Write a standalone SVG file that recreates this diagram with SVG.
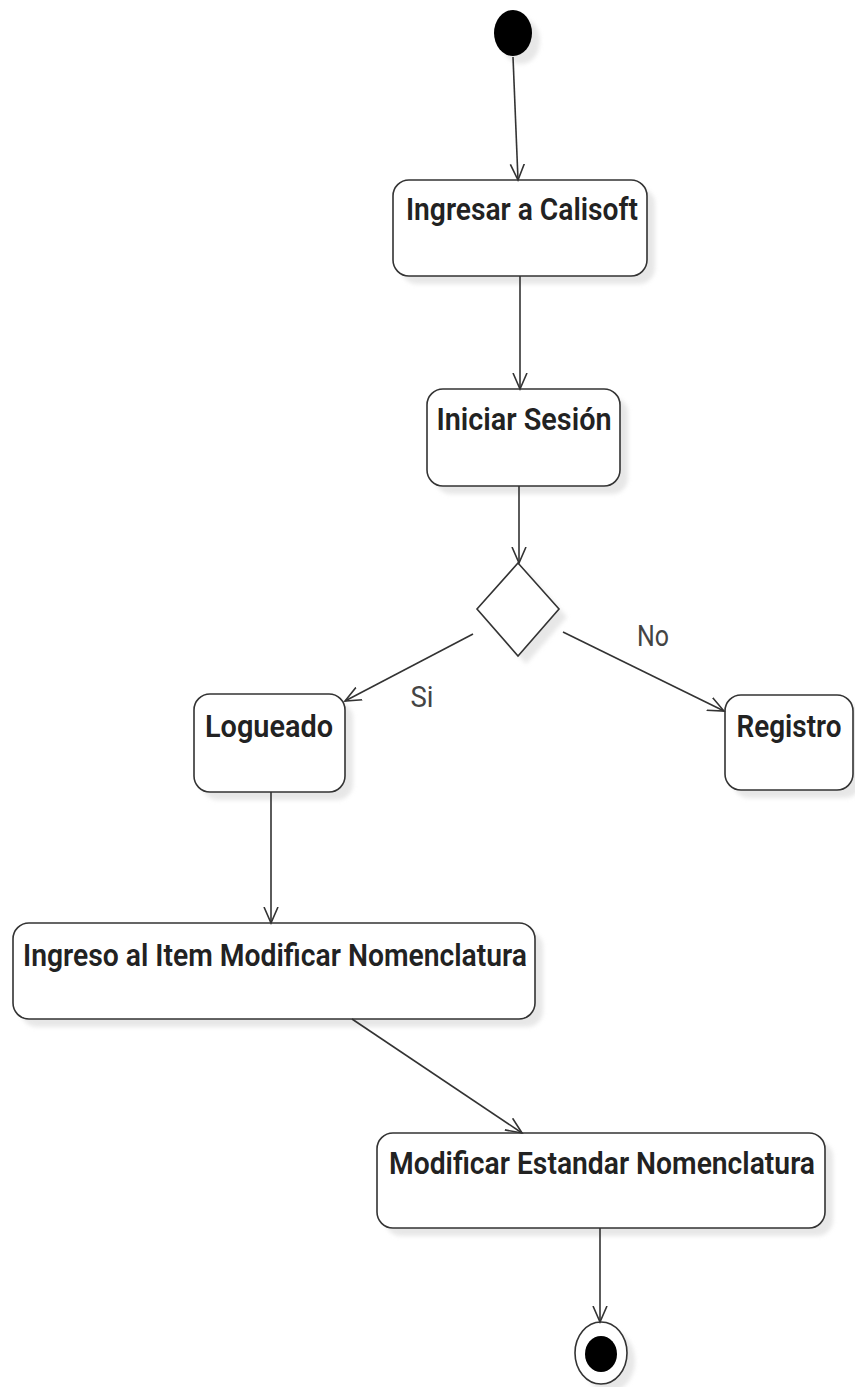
<svg xmlns="http://www.w3.org/2000/svg" width="855" height="1387" viewBox="0 0 855 1387">
<style>
.node{fill:#ffffff;stroke:#333333;stroke-width:1.6}
.shadow{fill:#d8d8d8;opacity:0.6;filter:url(#blur)}
.lbl{font-family:Roboto,"Liberation Sans",sans-serif;font-size:31px;font-weight:600;fill:#222222;text-anchor:middle}
.guard{font-family:Roboto,"Liberation Sans",sans-serif;font-size:30px;fill:#444444;text-anchor:middle}
.edge{fill:none;stroke:#333333;stroke-width:1.6;marker-end:url(#arrow)}
</style>
<defs>
<filter id="blur" x="-10%" y="-10%" width="120%" height="120%"><feGaussianBlur stdDeviation="2"/></filter>
<marker id="arrow" markerUnits="userSpaceOnUse" markerWidth="20" markerHeight="16" refX="16" refY="7" orient="auto" viewBox="0 0 20 14">
<path d="M0,0 L16,7 L0,14" fill="none" stroke="#333333" stroke-width="1.6"/>
</marker>
</defs>
<rect width="855" height="1387" fill="#ffffff"/>

<g id="start">
<ellipse class="shadow" cx="521" cy="41" rx="19" ry="23"/>
<ellipse cx="513" cy="33" rx="19" ry="23" fill="#000000"/>
</g>

<g id="ingresar">
<rect class="shadow" x="401" y="188" width="254" height="96" rx="16"/>
<rect class="node" x="393" y="180" width="254" height="96" rx="16"/>
<text class="lbl" x="522" y="220" textLength="232" lengthAdjust="spacingAndGlyphs">Ingresar a Calisoft</text>
</g>

<g id="iniciar">
<rect class="shadow" x="435" y="397" width="193" height="97" rx="16"/>
<rect class="node" x="427" y="389" width="193" height="97" rx="16"/>
<text class="lbl" x="524" y="430" textLength="175" lengthAdjust="spacingAndGlyphs">Iniciar Sesión</text>
</g>

<g id="decision">
<polygon class="shadow" points="526,571 567,617 526,664 485,617"/>
<polygon class="node" points="518,563 559,609 518,656 477,609"/>
</g>

<g id="logueado">
<rect class="shadow" x="202" y="702" width="151" height="98" rx="16"/>
<rect class="node" x="194" y="694" width="151" height="98" rx="16"/>
<text class="lbl" x="269" y="737" textLength="128" lengthAdjust="spacingAndGlyphs">Logueado</text>
</g>

<g id="registro">
<rect class="shadow" x="733" y="703" width="128" height="95" rx="16"/>
<rect class="node" x="725" y="695" width="128" height="95" rx="16"/>
<text class="lbl" x="789" y="737" textLength="105" lengthAdjust="spacingAndGlyphs">Registro</text>
</g>

<g id="ingreso">
<rect class="shadow" x="21" y="931" width="522" height="96" rx="16"/>
<rect class="node" x="13" y="923" width="522" height="96" rx="16"/>
<text class="lbl" x="275" y="966" textLength="504" lengthAdjust="spacingAndGlyphs">Ingreso al Item Modificar Nomenclatura</text>
</g>

<g id="modificar">
<rect class="shadow" x="385" y="1141" width="448" height="95" rx="16"/>
<rect class="node" x="377" y="1133" width="448" height="95" rx="16"/>
<text class="lbl" x="602" y="1174" textLength="426" lengthAdjust="spacingAndGlyphs">Modificar Estandar Nomenclatura</text>
</g>

<g id="end">
<ellipse class="shadow" cx="609" cy="1361" rx="26" ry="31"/>
<ellipse cx="601" cy="1353" rx="26" ry="31" fill="#ffffff" stroke="#333333" stroke-width="1.6"/>
<ellipse cx="601" cy="1354" rx="16" ry="18" fill="#000000"/>
</g>

<g id="connectors">
<line class="edge" x1="513" y1="57" x2="518" y2="180"/>
<line class="edge" x1="520" y1="276" x2="520" y2="389"/>
<line class="edge" x1="519" y1="486" x2="519" y2="563"/>
<line class="edge" x1="473" y1="634" x2="345" y2="701"/>
<line class="edge" x1="563" y1="632" x2="724" y2="711"/>
<line class="edge" x1="271" y1="792" x2="271" y2="923"/>
<line class="edge" x1="352" y1="1019" x2="522" y2="1133"/>
<line class="edge" x1="600" y1="1228" x2="600" y2="1322"/>
<text class="guard" x="422" y="707" textLength="23" lengthAdjust="spacingAndGlyphs">Si</text>
<text class="guard" x="653" y="646" textLength="32" lengthAdjust="spacingAndGlyphs">No</text>
</g>
</svg>
